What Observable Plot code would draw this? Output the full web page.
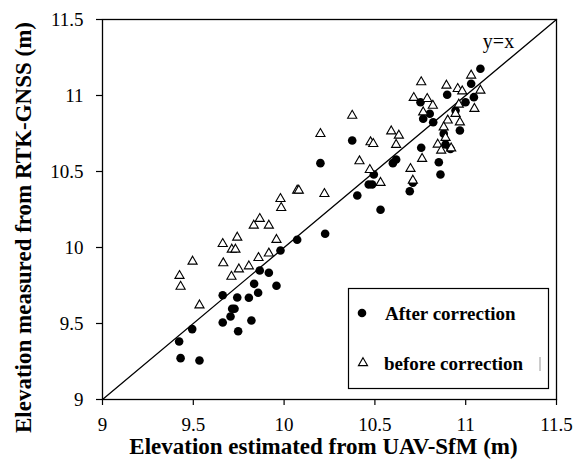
<!DOCTYPE html>
<html>
<head>
<meta charset="utf-8">
<script src="https://cdn.jsdelivr.net/npm/d3@7"></script>
<script src="https://cdn.jsdelivr.net/npm/@observablehq/plot@0.6"></script>
<style>
  html, body { margin: 0; padding: 0; background: #fff; }
  #chart { width: 579px; height: 467px; }
</style>
</head>
<body>
<div id="chart"></div>
<script>
// Tick values and labels
const xTicks = [9, 9.5, 10, 10.5, 11, 11.5];
const xTickLabels = ["9", "9.5", "10", "10.5", "11", "11.5"];
const yTicks = [9, 9.5, 10, 10.5, 11, 11.5];
const yTickLabels = ["9", "9.5", "10", "10.5", "11", "11.5"];

// Axis titles & legend labels
const xTitle = "Elevation estimated from UAV-SfM (m)";
const yTitle = "Elevation measured from RTK-GNSS (m)";
const seriesNames = ["After correction", "before correction"];
const lineLabel = ["y=x"];
const diagonal = [9, 11.5];

// After correction (filled circles)
const afterX = [9.422, 9.430, 9.494, 9.534, 9.662, 9.662, 9.705, 9.714, 9.727, 9.742,
  9.747, 9.806, 9.820, 9.835, 9.857, 9.866, 9.916, 9.958, 9.980, 10.072,
  10.226, 10.200, 10.375, 10.403, 10.494, 10.466, 10.485, 10.599, 10.617, 10.531,
  10.692, 10.709, 10.751, 10.802, 10.821, 10.766, 10.898, 11.030, 10.944, 10.999,
  11.045, 10.879, 10.968, 10.916, 10.889, 10.755, 10.852, 10.861, 11.081];
const afterY = [9.382, 9.272, 9.463, 9.257, 9.686, 9.507, 9.546, 9.597, 9.597, 9.671,
  9.449, 9.669, 9.520, 9.761, 9.702, 9.849, 9.834, 9.748, 9.980, 10.051,
  10.090, 10.555, 10.704, 10.342, 10.480, 10.414, 10.414, 10.555, 10.579, 10.248,
  10.370, 10.426, 10.956, 10.880, 10.824, 10.847, 11.005, 11.077, 10.901, 10.956,
  10.989, 10.749, 10.770, 10.649, 10.678, 10.656, 10.561, 10.480, 11.176];

// Before correction (open triangles)
const beforeX = [9.424, 9.430, 9.496, 9.534, 9.662, 9.665, 9.710, 9.712, 9.732, 9.742,
  9.751, 9.806, 9.833, 9.859, 9.866, 9.916, 9.916, 9.958, 9.980, 9.984,
  10.072, 10.081, 10.222, 10.200, 10.375, 10.415, 10.476, 10.491, 10.472, 10.531,
  10.590, 10.632, 10.617, 10.696, 10.709, 10.714, 10.755, 10.894, 10.956, 10.981,
  11.030, 10.788, 10.819, 10.766, 10.962, 10.944, 11.048, 10.901, 10.968, 10.879,
  10.889, 10.846, 10.920, 10.865, 10.760, 11.081];
const beforeY = [9.814, 9.743, 9.908, 9.620, 10.024, 9.897, 9.809, 9.987, 9.987, 10.066,
  9.857, 9.877, 10.145, 9.932, 10.189, 10.145, 9.961, 10.051, 10.320, 10.261,
  10.375, 10.375, 10.353, 10.748, 10.868, 10.568, 10.693, 10.682, 10.511, 10.426,
  10.765, 10.737, 10.676, 10.518, 10.441, 10.985, 11.088, 11.066, 11.044, 11.028,
  11.132, 10.978, 10.934, 10.890, 10.941, 10.880, 10.913, 10.836, 10.824, 10.791,
  10.722, 10.678, 10.653, 10.638, 10.584, 11.033];

const after = afterX.map((x, i) => ({x, y: afterY[i]}));
const before = beforeX.map((x, i) => ({x, y: beforeY[i]}));
const diag = diagonal.map(v => ({x: v, y: v}));

const serif = "'Liberation Serif', 'Times New Roman', serif";

const plot = Plot.plot({
  width: 579,
  height: 467,
  marginLeft: 102,
  marginRight: 23,
  marginTop: 19,
  marginBottom: 68,
  x: {domain: [9, 11.5]},
  y: {domain: [9, 11.5]},
  style: {fontFamily: serif, fontSize: "19px", color: "black", background: "white", overflow: "visible"},
  marks: [
    Plot.axisX({ticks: xTicks, tickFormat: d => xTickLabels[xTicks.indexOf(d)], tickSize: 6, tickPadding: 12, label: null, fontSize: 19, strokeWidth: 1.2}),
    Plot.axisY({ticks: yTicks, tickFormat: d => yTickLabels[yTicks.indexOf(d)], tickSize: 6, tickPadding: 13, label: null, fontSize: 19, strokeWidth: 1.2}),
    Plot.line(diag, {x: "x", y: "y", stroke: "black", strokeWidth: 1.3}),
    Plot.dot(after, {x: "x", y: "y", r: 4.3, fill: "black", stroke: "none"}),
    Plot.dot(before, {x: "x", y: "y", symbol: "triangle", r: 3.4, fill: "white", stroke: "black", strokeWidth: 1.1}),
    Plot.frame({stroke: "black", strokeWidth: 1.3}),
    Plot.text(lineLabel, {frameAnchor: "top-right", dx: -58, dy: 28, lineAnchor: "bottom", textAnchor: "middle", fontSize: 20, fontFamily: serif, fill: "black", letterSpacing: "1.5px"}),
    Plot.text([xTitle], {frameAnchor: "bottom", textAnchor: "middle", lineAnchor: "middle", dx: -6, dy: 47, fontSize: 23, fontWeight: "bold", fontFamily: serif, fill: "black", letterSpacing: "1.5px"}),
    Plot.text([yTitle], {frameAnchor: "left", textAnchor: "middle", lineAnchor: "middle", rotate: -90, dx: -79, dy: 18, fontSize: 23, fontWeight: "bold", fontFamily: serif, fill: "black", letterSpacing: "1.2px"})
  ]
});

document.getElementById("chart").appendChild(plot);

// Legend box (inside the plot)
const svg = d3.select(plot);
const lg = svg.append("g").attr("font-family", serif).attr("text-anchor", "start");
lg.append("rect").attr("x", 348.5).attr("y", 288.5).attr("width", 200).attr("height", 100)
  .attr("fill", "white").attr("stroke", "black").attr("stroke-width", 1.2);
lg.append("circle").attr("cx", 362).attr("cy", 313).attr("r", 4.3).attr("fill", "black");
lg.append("path").attr("d", d3.symbol(d3.symbolTriangle, 3.4 * 3.4 * Math.PI)())
  .attr("transform", "translate(363,363)").attr("fill", "white").attr("stroke", "black").attr("stroke-width", 1.1);
lg.append("text").attr("x", 385).attr("y", 320).attr("font-size", 19).attr("font-weight", "bold").attr("text-anchor", "start").text(seriesNames[0]);
lg.append("text").attr("x", 384).attr("y", 370).attr("font-size", 19).attr("font-weight", "bold").attr("text-anchor", "start").text(seriesNames[1]);
lg.append("line").attr("x1", 540).attr("x2", 540).attr("y1", 357).attr("y2", 371).attr("stroke", "#999").attr("stroke-width", 1);
</script>
</body>
</html>
